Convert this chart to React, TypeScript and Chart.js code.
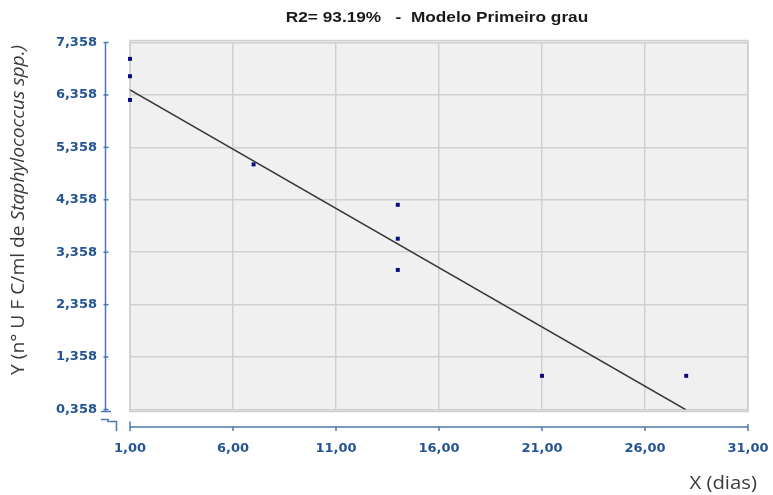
import React, { useEffect, useRef } from "react";
import { Chart, registerables } from "chart.js";

Chart.register(...registerables);

const chartTitle = "R2= 93.19%   -  Modelo Primeiro grau";
const xAxisTitle = "X (dias)";
const yTitleNormal = "Y (n° U F C/ml de ";
const yTitleItalic = "Staphylococcus spp.)";

const xTicks = [1, 6, 11, 16, 21, 26, 31];
const yTicks = [0.358, 1.358, 2.358, 3.358, 4.358, 5.358, 6.358, 7.358];

const obsX = [1, 1, 1, 7, 14, 14, 14, 21, 28];
const obsY = [7.046, 6.715, 6.262, 5.033, 4.262, 3.616, 3.02, 1.0, 1.0];

const fitX = [1, 28];
const fitY = [6.454, 0.35];

const AXIS = "#4A78B0";
const LABEL = "#245494";
const GRID = "#CFCFCF";
const TICK_FONT = "'DejaVu Sans', Verdana, sans-serif";

const decor = {
  id: "decor",
  beforeDraw(chart: any) {
    const { ctx, chartArea: a } = chart;
    ctx.save();
    ctx.fillStyle = "#F0F0F0";
    ctx.fillRect(a.left, a.top - 2, a.right - a.left, a.bottom - a.top + 4);
    ctx.restore();
  },
  beforeDatasetsDraw(chart: any) {
    const { ctx, chartArea: a } = chart;
    ctx.save();
    ctx.strokeStyle = GRID;
    ctx.lineWidth = 1.5;
    ctx.strokeRect(a.left, a.top - 2, a.right - a.left, a.bottom - a.top + 4);
    ctx.restore();
  },
  afterDraw(chart: any) {
    const { ctx, scales } = chart;
    const xs = scales.x, ys = scales.y;
    ctx.save();

    // y axis line
    ctx.strokeStyle = AXIS;
    ctx.lineWidth = 1.5;
    const yAxX = 105.5;
    ctx.beginPath();
    ctx.moveTo(yAxX, ys.getPixelForValue(7.358));
    ctx.lineTo(yAxX, ys.getPixelForValue(0.358) + 2);
    ctx.stroke();
    yTicks.forEach((v) => {
      const p = ys.getPixelForValue(v);
      ctx.beginPath();
      ctx.moveTo(yAxX - 2, p);
      ctx.lineTo(yAxX + 3, p);
      ctx.stroke();
    });
    const yb = ys.getPixelForValue(0.358) + 2;
    ctx.beginPath();
    ctx.moveTo(101, yb);
    ctx.lineTo(111, yb);
    ctx.stroke();
    // break symbol
    ctx.beginPath();
    ctx.moveTo(101, 419.5);
    ctx.lineTo(108, 419.5);
    ctx.lineTo(108, 421.5);
    ctx.lineTo(116.5, 421.5);
    ctx.lineTo(116.5, 431);
    ctx.stroke();

    // x axis line
    const xAxY = 427;
    ctx.beginPath();
    ctx.moveTo(xs.getPixelForValue(1), xAxY);
    ctx.lineTo(xs.getPixelForValue(31), xAxY);
    ctx.stroke();
    xTicks.forEach((v, i) => {
      const p = xs.getPixelForValue(v);
      const top = i === 0 ? 421.5 : i === xTicks.length - 1 ? 424 : xAxY;
      ctx.beginPath();
      ctx.moveTo(p, top);
      ctx.lineTo(p, 431);
      ctx.stroke();
    });

    // title (slightly stretched horizontally like the reference)
    ctx.save();
    ctx.fillStyle = "#1a1a1a";
    ctx.font = "bold 15px 'Liberation Sans', Arial, sans-serif";
    ctx.textAlign = "center";
    ctx.textBaseline = "middle";
    ctx.translate(437, 18);
    ctx.scale(1.15, 1);
    ctx.fillText(chartTitle, 0, 0);
    ctx.restore();

    // x title
    ctx.save();
    ctx.fillStyle = "#3a3a3a";
    ctx.font = "18px 'Open Sans', sans-serif";
    ctx.textAlign = "right";
    ctx.textBaseline = "middle";
    ctx.translate(757, 484);
    ctx.scale(1.13, 1);
    ctx.fillText(xAxisTitle, 0, 0);
    ctx.restore();

    // y title
    ctx.save();
    ctx.fillStyle = "#3a3a3a";
    ctx.textBaseline = "middle";
    ctx.translate(19, 210);
    ctx.rotate(-Math.PI / 2);
    const fN = "19px 'Open Sans', sans-serif";
    const fI = "italic 19px 'Open Sans', sans-serif";
    ctx.font = fN;
    const w1 = ctx.measureText(yTitleNormal).width;
    ctx.font = fI;
    const w2 = ctx.measureText(yTitleItalic).width;
    const sx = 330 / (w1 + w2);
    ctx.scale(sx, 1);
    const start = -(w1 + w2) / 2;
    ctx.textAlign = "left";
    ctx.font = fN;
    ctx.fillText(yTitleNormal, start, 0);
    ctx.font = fI;
    ctx.fillText(yTitleItalic, start + w1, 0);
    ctx.restore();
    ctx.restore();
  },
};

export default function App() {
  const ref = useRef<HTMLCanvasElement>(null);
  useEffect(() => {
    const chart = new Chart(ref.current!, {
      type: "scatter",
      data: {
        datasets: [
          {
            type: "line",
            data: fitX.map((x, i) => ({ x, y: fitY[i] })),
            borderColor: "#333333",
            borderWidth: 1.5,
            pointRadius: 0,
            fill: false,
          } as any,
          {
            data: obsX.map((x, i) => ({ x, y: obsY[i] })),
            pointStyle: "rect",
            pointRadius: 2.8,
            backgroundColor: "#0A0A80",
            borderColor: "#0A0A80",
            borderWidth: 0,
            clip: false,
          },
        ],
      },
      options: {
        responsive: false,
        animation: false,
        layout: { padding: { left: 0, right: 25, top: 42.5, bottom: 0 } },
        plugins: { legend: { display: false }, tooltip: { enabled: false } },
        scales: {
          x: {
            type: "linear",
            min: 1,
            max: 31,
            afterBuildTicks: (s: any) => {
              s.ticks = xTicks.map((v) => ({ value: v }));
            },
            afterFit: (s: any) => {
              s.height = 85.5;
              s.paddingLeft = 0;
              s.paddingRight = 0;
            },
            grid: { color: GRID, lineWidth: 1.5, drawTicks: false },
            border: { display: false },
            ticks: {
              padding: 31,
              color: LABEL,
              font: { family: TICK_FONT, size: 13, weight: "bold" },
              maxRotation: 0,
              callback: (v: any) => Number(v).toFixed(2).replace(".", ","),
            },
          },
          y: {
            type: "linear",
            min: 0.358,
            max: 7.358,
            afterBuildTicks: (s: any) => {
              s.ticks = yTicks.map((v) => ({ value: v }));
            },
            afterFit: (s: any) => {
              s.width = 130;
              s.paddingTop = 0;
              s.paddingBottom = 0;
            },
            grid: { color: GRID, lineWidth: 1.5, drawTicks: false },
            border: { display: false },
            ticks: {
              padding: 33,
              color: LABEL,
              font: { family: TICK_FONT, size: 13, weight: "bold" },
              callback: (v: any) => Number(v).toFixed(3).replace(".", ","),
            },
          },
        },
      },
      plugins: [decor],
    } as any);
    return () => chart.destroy();
  }, []);
  return (
    <div style={{ position: "absolute", left: 0, top: 0, width: 773, height: 495, background: "#fff" }}>
      <canvas ref={ref} width={773} height={495} />
    </div>
  );
}
